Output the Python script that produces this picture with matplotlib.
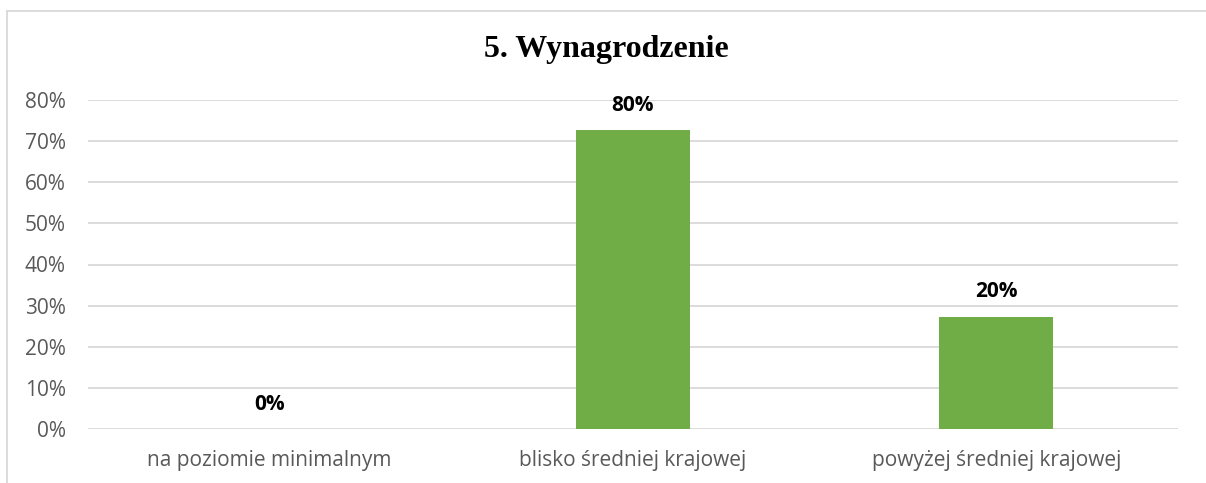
import matplotlib
matplotlib.use("Agg")
import matplotlib.pyplot as plt
from matplotlib.lines import Line2D
from matplotlib.ticker import FuncFormatter

categories = ["na poziomie minimalnym", "blisko średniej krajowej", "powyżej średniej krajowej"]
values = [0.0, 0.727, 0.273]
value_labels = ["0%", "80%", "20%"]
y_ticks = [0, 0.1, 0.2, 0.3, 0.4, 0.5, 0.6, 0.7, 0.8]
title = "5. Wynagrodzenie"

fig = plt.figure(figsize=(12.06, 4.83), dpi=100)
W, H = 1206, 483
ax = fig.add_axes([88 / W, 1 - 429 / H, (1178 - 88) / W, (429 - 100) / H])

x = list(range(len(categories)))
ax.bar(x, values, width=0.314, color="#70AD47", zorder=3)
ax.set_xlim(-0.5, 2.5)
ax.set_ylim(0, 0.8)
ax.set_yticks(y_ticks)
ax.yaxis.set_major_formatter(FuncFormatter(lambda v, p: f"{round(v*100)}%"))
ax.grid(axis="y", color="#D9D9D9", linewidth=1.3, zorder=0)
ax.set_xticks(x)
ax.set_xticklabels(categories)
for s in ax.spines.values():
    s.set_visible(False)
ax.tick_params(length=0, colors="#595959", labelsize=15)
ax.tick_params(axis="y", pad=16)
ax.tick_params(axis="x", pad=15)
for lab in ax.get_xticklabels() + ax.get_yticklabels():
    lab.set_family("Open Sans")
ax.set_clip_on(False)

for xi, v, lab in zip(x, values, value_labels):
    ax.annotate(lab, (xi, v), xytext=(0, 18), textcoords="offset points",
                ha="center", va="center", fontsize=15, fontweight="bold",
                family="Open Sans", color="black", annotation_clip=False)

fig.text(0.5 * (485 + 728) / W, 1 - 49 / H, title, ha="center", va="center",
         fontsize=23, fontweight="bold", family="Liberation Serif", color="black")

fig.add_artist(Line2D([7 / W, 1], [1 - 11 / H, 1 - 11 / H], color="#D9D9D9", lw=1.3, transform=fig.transFigure))
fig.add_artist(Line2D([7 / W, 7 / W], [0, 1 - 11 / H], color="#D9D9D9", lw=1.3, transform=fig.transFigure))

fig.savefig("out.png", dpi=100)
